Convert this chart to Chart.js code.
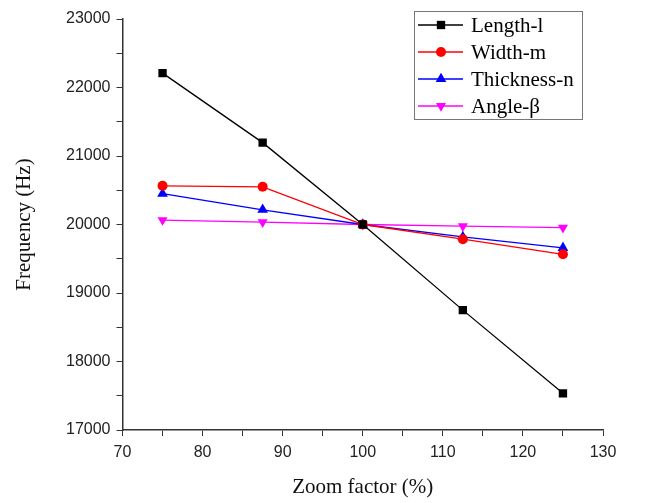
<!DOCTYPE html>
<html lang="en">
<head>
    <meta charset="UTF-8">
    <title>Frequency vs zoom factor</title>
    <script src="https://cdn.jsdelivr.net/npm/chart.js@4.4.1/dist/chart.umd.min.js"></script>
    <style>
        html, body { margin: 0; padding: 0; background: #fff; }
        #wrap { width: 661px; height: 503px; }
    </style>
</head>
<body>
    <div id="wrap"><canvas id="chart"></canvas></div>
    <script>
        // data
        const zoomFactor = [75, 87.5, 100, 112.5, 125];
        const lengthL = [22210, 21195, 20000, 18750, 17535];
        const widthM = [20565, 20550, 20000, 19785, 19565];
        const thicknessN = [20450, 20215, 20000, 19820, 19660];
        const angleB = [20065, 20035, 20000, 19975, 19955];

        const seriesNames = ['Length-l', 'Width-m', 'Thickness-n', 'Angle-\u03b2'];
        const seriesColors = ['#000000', '#ff0000', '#0000ff', '#ff00ff'];
        const seriesMarkers = ['rect', 'circle', 'triangle', 'triangle'];
        const seriesRotation = [0, 0, 0, 180];
        const seriesRadius = [5.9, 5, 6.2, 5.8];
        const seriesData = [lengthL, widthM, thicknessN, angleB];

        const datasets = seriesData.map(function (vals, i) {
            return {
                label: seriesNames[i],
                data: vals.map(function (v, j) { return { x: zoomFactor[j], y: v }; }),
                borderColor: seriesColors[i],
                backgroundColor: seriesColors[i],
                borderWidth: 1.3,
                pointStyle: seriesMarkers[i],
                rotation: seriesRotation[i],
                pointRadius: seriesRadius[i],
                pointBorderWidth: 0,
                tension: 0
            };
        });

        // legend box drawn inside the plot, like the original
        const boxLegend = {
            id: 'boxLegend',
            afterDraw(chart) {
                const ctx = chart.ctx;
                const x0 = 414, y0 = 11, w = 168, h = 108;
                ctx.save();
                ctx.strokeStyle = '#777';
                ctx.lineWidth = 1;
                ctx.strokeRect(x0 + 0.5, y0 + 0.5, w, h);
                ctx.font = '21px "Liberation Serif", "Times New Roman", serif';
                ctx.textBaseline = 'middle';
                chart.data.datasets.forEach(function (ds, i) {
                    const y = y0 + 14 + i * 27;
                    ctx.strokeStyle = ds.borderColor;
                    ctx.lineWidth = 1.3;
                    ctx.beginPath();
                    ctx.moveTo(x0 + 4, y);
                    ctx.lineTo(x0 + 49, y);
                    ctx.stroke();
                    ctx.fillStyle = ds.backgroundColor;
                    Chart.helpers.drawPoint(ctx, {
                        pointStyle: ds.pointStyle, rotation: ds.rotation,
                        radius: ds.pointRadius, borderWidth: 0
                    }, x0 + 27, y);
                    ctx.fillStyle = '#000';
                    ctx.fillText(ds.label, x0 + 57, y + 1);
                });
                ctx.restore();
            }
        };

        const tickFont = { family: '"Liberation Sans", Arial, sans-serif', size: 16 };
        const titleFont = { family: '"Liberation Serif", "Times New Roman", serif', size: 21 };

        new Chart(document.getElementById('chart'), {
            type: 'line',
            data: { datasets: datasets },
            options: {
                responsive: true,
                maintainAspectRatio: false,
                animation: false,
                layout: { padding: { top: 19, right: 58, left: 0, bottom: 0 } },
                plugins: { legend: { display: false }, tooltip: { enabled: false } },
                scales: {
                    x: {
                        type: 'linear',
                        min: 70, max: 130,
                        afterFit(s) { s.height = 73; },
                        ticks: {
                            stepSize: 5, color: '#222', font: tickFont, padding: 7,
                            maxRotation: 0, autoSkip: false,
                            callback: function (v) { return v % 10 === 0 ? v : ''; }
                        },
                        grid: { drawOnChartArea: false, tickLength: 6, tickColor: '#333' },
                        border: { color: '#333', width: 1.5 },
                        title: { display: true, text: 'Zoom factor (%)', font: titleFont, color: '#111', padding: { top: 4, bottom: 3 } }
                    },
                    y: {
                        min: 17000, max: 23000,
                        afterFit(s) { s.width = 122.5; },
                        ticks: {
                            stepSize: 500, color: '#222', font: tickFont, padding: 6,
                            autoSkip: false,
                            callback: function (v) { return v % 1000 === 0 ? v : ''; }
                        },
                        grid: { drawOnChartArea: false, tickLength: 6, tickColor: '#333' },
                        border: { color: '#333', width: 1.5 },
                        title: { display: true, text: 'Frequency (Hz)', font: titleFont, color: '#111', padding: { top: 12, bottom: 4 } }
                    }
                }
            },
            plugins: [boxLegend]
        });
    </script>
</body>
</html>
